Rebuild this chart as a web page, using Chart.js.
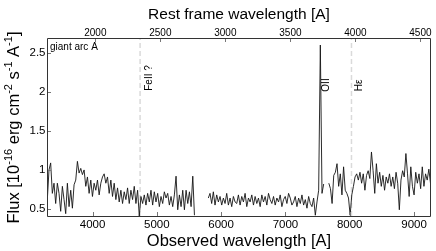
<!DOCTYPE html>
<html>
<head>
<meta charset="utf-8">
<script src="https://cdn.jsdelivr.net/npm/chart.js@4.4.0/dist/chart.umd.min.js"></script>
<style>
  html, body { margin: 0; padding: 0; background: #fff; }
  #chart-spectrum { display: block; }
</style>
</head>
<body>
<canvas id="chart-spectrum" width="436" height="251"></canvas>
<script>
// Giant arc A spectrum: observed-frame flux (1e-16 erg/cm2/s/A), rest frame on top axis.
// Three spectrum segments with gaps between them.

var redshiftFactor = 2.022;           // 1 + z
var obsMin = 3292, obsMax = 9264;     // observed wavelength range [A]
var fluxMin = 0.41, fluxMax = 2.69;

var seg1Start = 3297, seg1Step = 26;
var seg1Flux = [
  0.62, 1.00, 1.09, 0.70, 0.83, 0.57, 0.83, 0.70, 0.47, 0.79,
  0.62, 0.44, 0.83, 0.53, 0.74, 0.51, 0.81, 0.87, 1.11, 0.96,
  1.02, 0.94, 1.00, 0.79, 0.91, 0.70, 0.87, 0.66, 0.83, 0.74,
  0.87, 0.68, 0.83, 0.91, 0.95, 0.83, 0.91, 0.70, 0.87, 0.66,
  0.83, 0.62, 0.77, 0.59, 0.74, 0.57, 0.72, 0.62, 0.77, 0.57,
  0.74, 0.62, 0.79, 0.57, 0.74, 0.41,
  0.66, 0.57, 0.68, 0.55, 0.70, 0.59, 0.74, 0.55, 0.72, 0.59,
  0.70, 0.53, 0.66, 0.57, 0.72, 0.64, 0.70, 0.55, 0.66, 0.53,
  0.68, 0.92, 0.49, 0.68, 0.53, 0.74, 0.49, 0.74, 0.57, 0.72,
  0.53, 0.92, 0.42
];

var seg2Start = 5801, seg2Step = 26;
var seg2Flux = [
  0.64, 0.70, 0.57, 0.72, 0.55, 0.68, 0.59, 0.66, 0.55, 0.64,
  0.57, 0.70, 0.55, 0.64, 0.53, 0.66, 0.59,
  0.57, 0.68, 0.55, 0.66, 0.59, 0.70, 0.53, 0.64, 0.59, 0.68,
  0.55, 0.66, 0.57, 0.64, 0.53, 0.68, 0.59, 0.66, 0.55, 0.70,
  0.62, 0.57, 0.66, 0.55, 0.64, 0.59, 0.68, 0.53, 0.62, 0.66,
  0.57, 0.70, 0.64, 0.55, 0.59, 0.66, 0.53, 0.64, 0.57, 0.68,
  0.55, 0.62, 0.51, 0.66, 0.57, 0.53, 0.64, 0.42, 0.59, 0.74,
  2.60, 0.70, 0.82
];

var seg3Start = 7675, seg3Step = 25.5;
var seg3Flux = [
  0.83, 0.76, 0.57, 0.93, 0.97, 1.08, 0.79, 0.95, 0.68, 1.04,
  0.74, 0.70, 0.64, 0.42, 0.68, 0.79, 0.91, 0.95, 0.87, 0.97,
  0.83, 0.95, 0.74, 0.93, 0.99, 0.89, 1.23, 0.99, 0.70, 1.08,
  0.83, 0.97, 0.79, 0.93, 0.74, 0.91, 0.83, 0.95, 0.79, 0.91,
  0.76, 0.97, 0.83, 0.49, 0.87, 0.99, 0.91, 1.21, 0.95, 0.66,
  1.04, 0.79, 0.68, 0.97, 0.83, 0.95, 0.76, 1.04, 0.79, 0.95,
  0.87, 1.01, 0.83, 0.95
];

var obsTicks = [4000, 5000, 6000, 7000, 8000, 9000];
var restTicks = [2000, 2500, 3000, 3500, 4000, 4500];
var fluxTicks = [0.5, 1, 1.5, 2, 2.5];
var fluxTickLabels = ['0.5', '1', '1.5', '2', '2.5'];

// identified lines (rest wavelength), dashed marker or not
var lineNames = ['FeII ?', 'OII', 'H\u03b5'];
var lineRest = [2344, 3727, 3970];
var lineDashed = [true, false, true];

var FONT = "'Liberation Sans', Arial, Helvetica, sans-serif";

function segPoints(start, step, flux) {
  return flux.map(function(f, i) { return { x: start + i * step, y: f }; });
}

var datasets = [];
[[seg1Start, seg1Step, seg1Flux], [seg2Start, seg2Step, seg2Flux], [seg3Start, seg3Step, seg3Flux]].forEach(function(s) {
  datasets.push({
    data: segPoints(s[0], s[1], s[2]),
    borderColor: '#141414',
    borderWidth: 0.9,
    pointRadius: 0,
    tension: 0,
    order: 0
  });
});
lineRest.forEach(function(r, i) {
  if (!lineDashed[i]) return;
  datasets.push({
    data: [{ x: r * redshiftFactor, y: fluxMin }, { x: r * redshiftFactor, y: fluxMax }],
    borderColor: '#dadada',
    borderWidth: 1.5,
    borderDash: [5, 3],
    pointRadius: 0,
    order: 1
  });
});

// box, inward tick marks, line labels, y title with superscripts
var decorPlugin = {
  id: 'decor',
  afterDatasetsDraw: function(chart) {
    var ctx = chart.ctx, a = chart.chartArea;
    var xs = chart.scales.x, xr = chart.scales.x2, ys = chart.scales.y;
    ctx.save();

    ctx.strokeStyle = '#777';
    ctx.lineWidth = 1;
    ctx.beginPath();
    obsTicks.forEach(function(v) {
      var p = Math.round(xs.getPixelForValue(v)) + 0.5;
      ctx.moveTo(p, a.bottom); ctx.lineTo(p, a.bottom - 4);
    });
    restTicks.forEach(function(v) {
      var p = Math.round(xr.getPixelForValue(v)) + 0.5;
      ctx.moveTo(p, a.top); ctx.lineTo(p, a.top + 4);
    });
    fluxTicks.forEach(function(v) {
      var p = Math.round(ys.getPixelForValue(v)) + 0.5;
      ctx.moveTo(a.left, p); ctx.lineTo(a.left + 4, p);
    });
    ctx.stroke();

    ctx.strokeStyle = '#333';
    ctx.beginPath();
    ctx.moveTo(a.left + 0.5, a.top + 0.5);
    ctx.lineTo(a.right - 0.5, a.top + 0.5);
    ctx.lineTo(a.right - 0.5, a.bottom + 0.5);
    ctx.lineTo(a.left + 0.5, a.bottom + 0.5);
    ctx.closePath();
    ctx.stroke();

    ctx.fillStyle = '#000';
    ctx.font = '10px ' + FONT;
    ctx.textAlign = 'left';
    ctx.textBaseline = 'alphabetic';
    ctx.fillText('giant arc A', a.left + 3, a.top + 12);

    // rotated line labels, just right of each line
    var offs = [9, 6, 8], ymid = [78, 85, 85.5];
    lineNames.forEach(function(name, i) {
      var px = xs.getPixelForValue(lineRest[i] * redshiftFactor) + offs[i];
      ctx.save();
      ctx.translate(px, ymid[i]);
      ctx.rotate(-Math.PI / 2);
      ctx.textAlign = 'center';
      ctx.textBaseline = 'middle';
      ctx.fillText(name, 0, 0);
      ctx.restore();
    });

    // y axis title
    var parts = [
      ['Flux [10', 0], ['-16', 1], [' erg cm', 0], ['-2', 1], [' s', 0],
      ['-1', 1], [' A', 0], ['-1', 1], [']', 0]
    ];
    var mainFont = '16.5px ' + FONT, supFont = '11px ' + FONT;
    var total = 0;
    parts.forEach(function(p) {
      ctx.font = p[1] ? supFont : mainFont;
      total += ctx.measureText(p[0]).width;
    });
    ctx.save();
    ctx.translate(18.5, (a.top + a.bottom) / 2 + 0.5);
    ctx.rotate(-Math.PI / 2);
    ctx.textAlign = 'left';
    ctx.textBaseline = 'alphabetic';
    var cx = -total / 2;
    parts.forEach(function(p) {
      ctx.font = p[1] ? supFont : mainFont;
      ctx.fillText(p[0], cx, p[1] ? -6.5 : 0);
      cx += ctx.measureText(p[0]).width;
    });
    ctx.restore();

    ctx.restore();
  }
};

new Chart(document.getElementById('chart-spectrum').getContext('2d'), {
  type: 'line',
  data: { datasets: datasets },
  options: {
    responsive: false,
    animation: false,
    parsing: false,
    layout: { padding: { left: 0, right: 5, top: 0, bottom: 0 } },
    plugins: { legend: { display: false }, tooltip: { enabled: false } },
    scales: {
      x: {
        type: 'linear',
        position: 'bottom',
        min: obsMin,
        max: obsMax,
        grid: { display: false, drawTicks: false },
        border: { display: false },
        afterBuildTicks: function(s) { s.ticks = obsTicks.map(function(v) { return { value: v }; }); },
        afterFit: function(s) { s.height = 35; },
        ticks: {
          autoSkip: false, maxRotation: 0, padding: 2, color: '#000',
          font: { family: FONT, size: 11.5 },
          callback: function(v) { return String(v); }
        },
        title: {
          display: true, text: 'Observed wavelength [A]', color: '#000',
          font: { family: FONT, size: 16.5 },
          padding: { top: 0, bottom: 0 }
        }
      },
      x2: {
        type: 'linear',
        position: 'top',
        min: obsMin / redshiftFactor,
        max: obsMax / redshiftFactor,
        grid: { display: false, drawTicks: false },
        border: { display: false },
        afterBuildTicks: function(s) { s.ticks = restTicks.map(function(v) { return { value: v }; }); },
        afterFit: function(s) { s.height = 38; },
        ticks: {
          autoSkip: false, maxRotation: 0, padding: 0, color: '#000',
          font: { family: FONT, size: 10, lineHeight: 1 },
          callback: function(v) { return String(v); }
        },
        title: {
          display: true, text: 'Rest frame wavelength [A]', color: '#000',
          font: { family: FONT, size: 15.5 },
          padding: { top: 5, bottom: 0 }
        }
      },
      y: {
        type: 'linear',
        position: 'left',
        min: fluxMin,
        max: fluxMax,
        grid: { display: false, drawTicks: false },
        border: { display: false },
        afterBuildTicks: function(s) { s.ticks = fluxTicks.map(function(v) { return { value: v }; }); },
        afterFit: function(s) { s.width = 47; },
        ticks: {
          padding: 1.5, color: '#000',
          font: { family: FONT, size: 11.5 },
          callback: function(v) { var i = fluxTicks.indexOf(v); return i >= 0 ? fluxTickLabels[i] : ''; }
        }
      }
    }
  },
  plugins: [decorPlugin]
});
</script>
</body>
</html>
